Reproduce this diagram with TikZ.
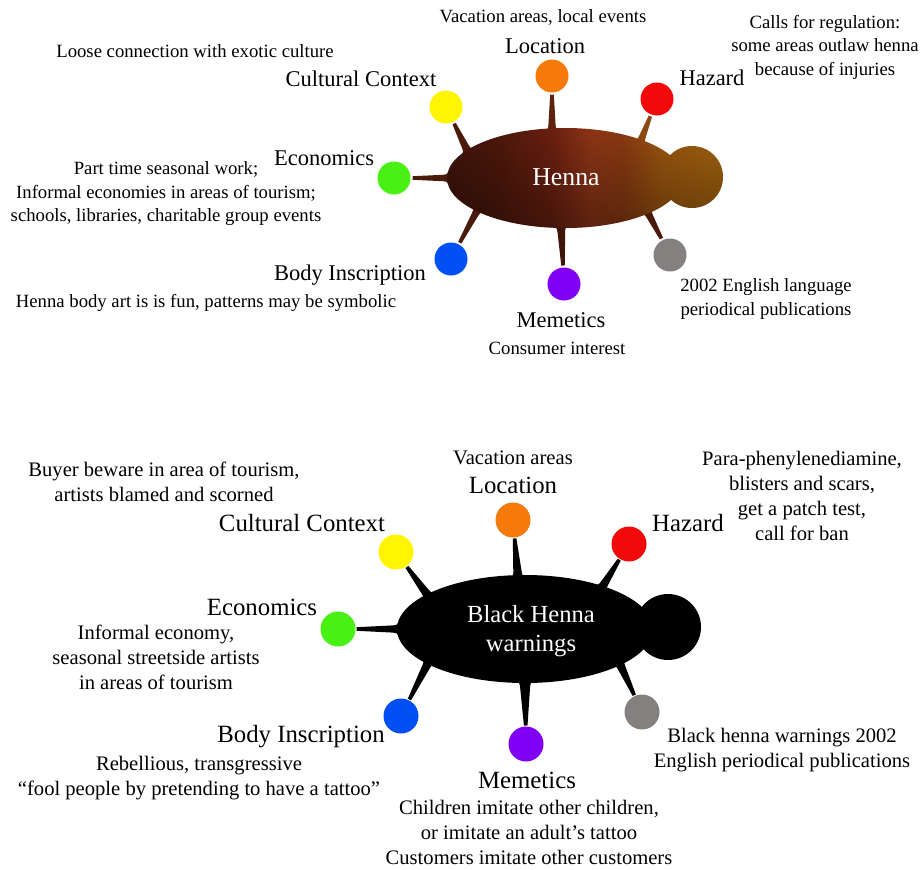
\documentclass[tikz,border=0pt]{standalone}
\usepackage{fontspec}
\setmainfont{Liberation Serif}
\usetikzlibrary{calc,fadings}
\tikzfading[name=darkbottom, top color=transparent!100, bottom color=transparent!0]
\definecolor{hA}{HTML}{3F150A}
\definecolor{hB}{HTML}{4D180B}
\definecolor{hC}{HTML}{6B2010}
\definecolor{hD}{HTML}{8C3516}
\definecolor{hE}{HTML}{8A3A12}
\definecolor{hF}{HTML}{9A560F}
\definecolor{hG}{HTML}{A0620F}
\definecolor{cOrange}{HTML}{F57A0A}
\definecolor{cRed}{HTML}{F20A0A}
\definecolor{cYellow}{HTML}{FFF500}
\definecolor{cGreen}{HTML}{48F014}
\definecolor{cBlue}{HTML}{0050F5}
\definecolor{cPurple}{HTML}{8000F5}
\definecolor{cGray}{HTML}{858080}
\definecolor{spDark}{HTML}{4A1A0B}
\definecolor{spMid}{HTML}{5E2210}
\definecolor{spOr}{HTML}{8A4A12}
\pgfdeclarehorizontalshading{hennashade}{100bp}{color(0bp)=(hA); color(25bp)=(hA); color(34bp)=(hB); color(44bp)=(hC); color(51bp)=(hD); color(57bp)=(hE); color(64bp)=(hF); color(75bp)=(hG); color(100bp)=(hG)}
% #1 dot node, #2 edge coordinate, #3 colour, #4 half width near the body
\newcommand{\spike}[4]{%
  \path ($(#1.center)!18.5pt!(#2)$) coordinate (sT)
        ($(#2)!6pt!(sT)$) coordinate (sM)
        ($(#2)!2pt!(sT)$) coordinate (sC)
        ($(#2)!-12pt!(sT)$) coordinate (sF);
  \fill[#3] ($(sT)!1.8pt!90:(sF)$) -- ($(sM)!#4!90:(sF)$)
     .. controls ($(sC)!#4+0.5pt!90:(sF)$) .. ($(#2)!#4+4pt!90:(sF)$)
     -- ($(sF)!#4+4pt!-90:(sT)$) -- ($(sF)!#4+4pt!90:(sT)$)
     -- ($(#2)!#4+4pt!-90:(sF)$)
     .. controls ($(sC)!#4+0.5pt!-90:(sF)$) .. ($(sM)!#4!-90:(sF)$)
     -- ($(sT)!1.8pt!-90:(sF)$) -- cycle;}
\tikzset{
  dot/.style={circle, minimum size=#1, inner sep=0pt, draw=none},
  labA/.style={font=\fontsize{22.5}{26}\selectfont, inner sep=0pt},
  noteA/.style={font=\fontsize{18.7}{23.5}\selectfont, align=center, inner sep=0pt},
  labB/.style={font=\fontsize{24.8}{28}\selectfont, inner sep=0pt},
  noteB/.style={font=\fontsize{20.6}{25}\selectfont, align=center, inner sep=0pt},
  bodyA/.style={font=\fontsize{25.8}{29}\selectfont, text=white, inner sep=0pt},
  bodyB/.style={font=\fontsize{24.6}{29}\selectfont, text=white, align=center, inner sep=0pt},
}
\begin{document}
\begin{tikzpicture}[x=1pt,y=-1pt]
\fill[white] (0,0) rectangle (921,870);
\useasboundingbox (0,0) rectangle (921,870);

% ===== Top diagram: Henna =====
\node[dot=33pt, fill=cOrange] (tLoc) at (552,76) {};
\node[dot=33pt, fill=cRed] (tHaz) at (657,99) {};
\node[dot=33pt, fill=cYellow] (tCul) at (446,107) {};
\node[dot=33pt, fill=cGreen] (tEco) at (394,178) {};
\node[dot=33pt, fill=cBlue] (tBod) at (451,259) {};
\node[dot=33pt, fill=cPurple] (tMem) at (564,284) {};
\node[dot=33pt, fill=cGray] (tPub) at (670,255) {};

\coordinate (eLoc) at (552,131);
\coordinate (eHaz) at (640,143);
\coordinate (eCul) at (468,152);
\coordinate (eEco) at (449,178);
\coordinate (eBod) at (478,209);
\coordinate (eMem) at (561,226);
\coordinate (ePub) at (647,211);
\spike{tLoc}{eLoc}{spMid}{3.6pt}
\spike{tHaz}{eHaz}{spOr}{3.4pt}
\spike{tCul}{eCul}{spDark}{3.6pt}
\spike{tEco}{eEco}{spDark}{3.2pt}
\spike{tBod}{eBod}{spDark}{3.4pt}
\spike{tMem}{eMem}{hA}{3.8pt}
\spike{tPub}{ePub}{spDark}{3.4pt}

\path[shading=hennashade] (565,178) ellipse [x radius=118pt, y radius=50pt] (692,177) circle [radius=31pt];
\fill[black, opacity=0.35, path fading=darkbottom] (565,178) ellipse [x radius=118pt, y radius=50pt] (692,177) circle [radius=31pt];
\node[bodyA] (tBody) at (566,177) {Henna};

\node[noteA] (tVac) at (543,17) {Vacation areas, local events};
\node[labA] (tLocL) at (545,46) {Location};
\node[noteA] (tLoose) at (195,51) {Loose connection with exotic culture};
\node[labA] (tCulL) at (361,79) {Cultural Context};
\node[labA] (tHazL) at (712,78) {Hazard};
\node[noteA] (tCalls) at (825,47) {Calls for regulation:\\some areas outlaw henna\\because of injuries};
\node[labA] (tEcoL) at (324,158) {Economics};
\node[noteA] (tEcoT) at (166,194) {Part time seasonal work;\\Informal economies in areas of tourism;\\schools, libraries, charitable group events};
\node[labA] (tBodL) at (350,275) {Body Inscription};
\node[noteA] (tBodT) at (206,303) {Henna body art is is fun, patterns may be symbolic};
\node[labA] (tMemL) at (561,320) {Memetics};
\node[noteA] (tMemT) at (557,348) {Consumer interest};
\node[noteA] (tPubT) at (766,299) {2002 English language\\periodical publications};

% ===== Bottom diagram: Black Henna warnings =====
\node[dot=35pt, fill=cOrange] (bLoc) at (513,520) {};
\node[dot=35pt, fill=cRed] (bHaz) at (629,544) {};
\node[dot=35pt, fill=cYellow] (bCul) at (396,552) {};
\node[dot=35pt, fill=cGreen] (bEco) at (338,629) {};
\node[dot=35pt, fill=cBlue] (bBod) at (401,716) {};
\node[dot=35pt, fill=cPurple] (bMem) at (526,744) {};
\node[dot=35pt, fill=cGray] (bPub) at (642,712) {};

\coordinate (fLoc) at (518,578);
\coordinate (fHaz) at (601,589);
\coordinate (fCul) at (429,597);
\coordinate (fEco) at (399,629);
\coordinate (fBod) at (429,661);
\coordinate (fMem) at (525,681);
\coordinate (fPub) at (619,662);
\spike{bLoc}{fLoc}{black}{4.2pt}
\spike{bHaz}{fHaz}{black}{4pt}
\spike{bCul}{fCul}{black}{4pt}
\spike{bEco}{fEco}{black}{3.6pt}
\spike{bBod}{fBod}{black}{4pt}
\spike{bMem}{fMem}{black}{5pt}
\spike{bPub}{fPub}{black}{4pt}

\fill[black] (525,629) ellipse [x radius=128pt, y radius=54pt] (668,627) circle [radius=33pt];
\node[bodyB] (bBody) at (531,631) {Black Henna\\warnings};

\node[noteB] (bVac) at (513,458) {Vacation areas};
\node[labB] (bLocL) at (513,485) {Location};
\node[labB] (bHazL) at (688,523) {Hazard};
\node[noteB] (bPara) at (802,496) {Para-phenylenediamine,\\blisters and scars,\\get a patch test,\\call for ban};
\node[noteB] (bBuy) at (164,482) {Buyer beware in area of tourism,\\artists blamed and scorned};
\node[labB] (bCulL) at (302,523) {Cultural Context};
\node[labB] (bEcoL) at (262,607) {Economics};
\node[noteB] (bEcoT) at (156,657) {Informal economy,\\seasonal streetside artists\\in areas of tourism};
\node[labB] (bBodL) at (301,737) {Body Inscription};
\node[noteB] (bBodT) at (199,778) {Rebellious, transgressive\\“fool people by pretending to have a tattoo”};
\node[labB] (bMemL) at (527,780) {Memetics};
\node[noteB] (bMemT) at (529,832) {Children imitate other children,\\or imitate an adult’s tattoo\\Customers imitate other customers};
\node[noteB] (bPubT) at (782,750) {Black henna warnings 2002\\English periodical publications};
\end{tikzpicture}
\end{document}
